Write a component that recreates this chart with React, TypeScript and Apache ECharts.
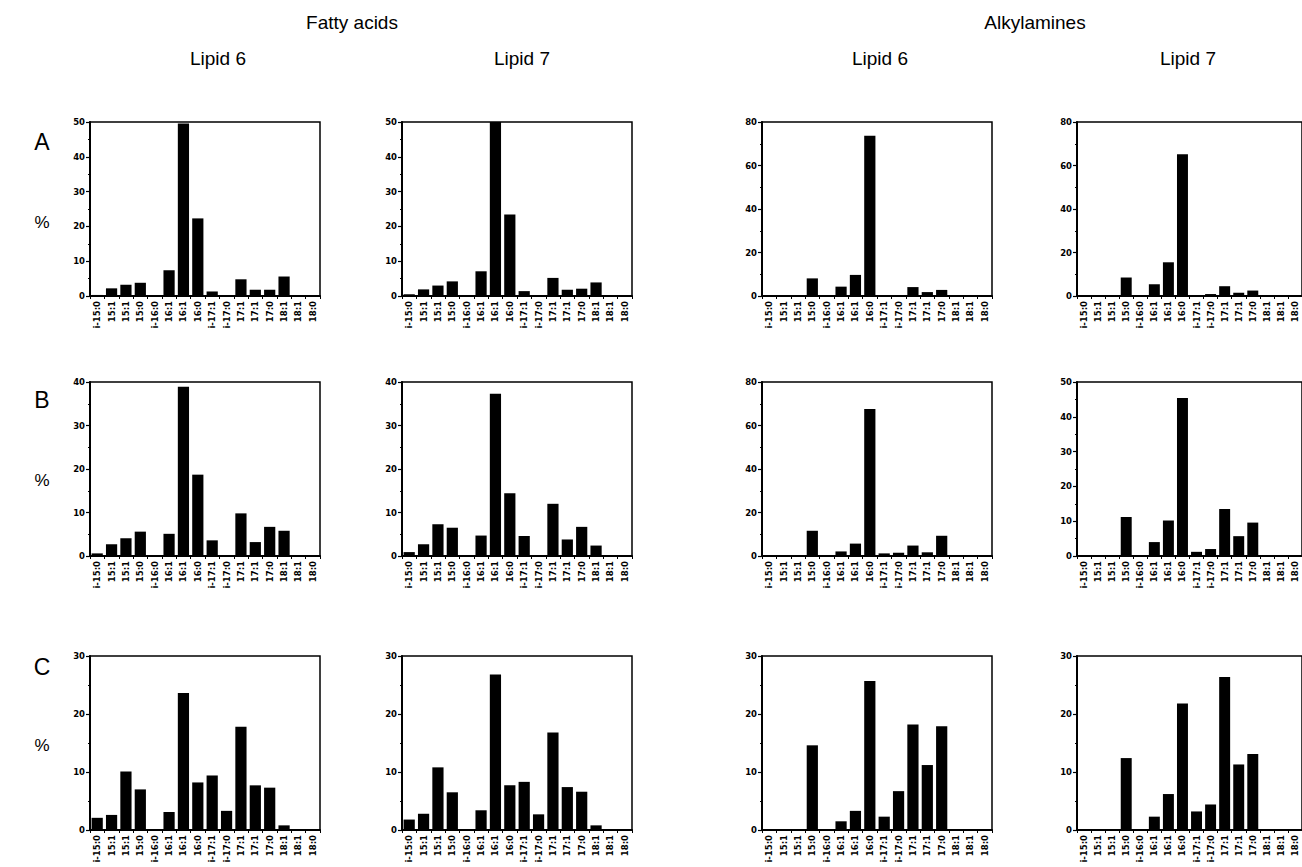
import React, { useEffect, useRef } from "react";
import * as echarts from "echarts";

// ---- categories (x axis tick labels) ----
const categories = [
  "i-15:0", "15:1", "15:1", "15:0", "i-16:0", "16:1", "16:1", "16:0",
  "i-17:1", "i-17:0", "17:1", "17:1", "17:0", "18:1", "18:1", "18:0",
];

// ---- series values (%) ----
// Row A
const faLipid6A = [0.3, 2.2, 3.2, 3.8, 0, 7.4, 49.6, 22.3, 1.3, 0.2, 4.8, 1.8, 1.8, 5.6, 0, 0];
const faLipid7A = [0.5, 1.9, 3.0, 4.2, 0, 7.1, 51, 23.4, 1.4, 0, 5.2, 1.8, 2.1, 3.9, 0, 0];
const amLipid6A = [0, 0, 0, 8.1, 0.2, 4.3, 9.7, 73.7, 0.3, 0.3, 4.1, 1.8, 2.8, 0.2, 0.2, 0.2];
const amLipid7A = [0, 0, 0, 8.5, 0.3, 5.4, 15.5, 65.2, 0.2, 0.9, 4.5, 1.5, 2.5, 0.2, 0.2, 0.2];
// Row B
const faLipid6B = [0.6, 2.7, 4.1, 5.6, 0.1, 5.1, 38.9, 18.7, 3.6, 0.1, 9.8, 3.2, 6.7, 5.8, 0, 0];
const faLipid7B = [0.9, 2.7, 7.3, 6.5, 0, 4.7, 37.3, 14.4, 4.6, 0, 12.0, 3.8, 6.7, 2.4, 0, 0];
const amLipid6B = [0, 0, 0, 11.6, 0.2, 2.1, 5.7, 67.6, 1.2, 1.5, 4.8, 1.7, 9.3, 0.2, 0.2, 0.2];
const amLipid7B = [0, 0, 0, 11.2, 0.2, 4.0, 10.2, 45.4, 1.2, 2.0, 13.5, 5.7, 9.6, 0.2, 0.2, 0.2];
// Row C
const faLipid6C = [2.1, 2.6, 10.1, 7.0, 0.1, 3.1, 23.6, 8.2, 9.4, 3.3, 17.8, 7.7, 7.3, 0.8, 0.1, 0.1];
const faLipid7C = [1.8, 2.8, 10.8, 6.5, 0.1, 3.4, 26.8, 7.7, 8.3, 2.7, 16.8, 7.4, 6.6, 0.8, 0, 0];
const amLipid6C = [0, 0, 0, 14.6, 0.1, 1.5, 3.3, 25.7, 2.3, 6.7, 18.2, 11.2, 17.9, 0.1, 0.1, 0.1];
const amLipid7C = [0, 0, 0, 12.4, 0.1, 2.3, 6.2, 21.8, 3.2, 4.4, 26.4, 11.3, 13.1, 0.1, 0.1, 0.1];

// ---- y axis scales per panel ----
const yMaxA = [50, 50, 80, 80];
const yStepA = [10, 10, 20, 20];
const yMaxB = [40, 40, 80, 50];
const yStepB = [10, 10, 20, 10];
const yMaxC = [30, 30, 30, 30];
const yStepC = [10, 10, 10, 10];

// ---- texts ----
const groupTitles = ["Fatty acids", "Alkylamines"];
const columnTitles = ["Lipid 6", "Lipid 7", "Lipid 6", "Lipid 7"];
const rowLetters = ["A", "B", "C"];
const yUnit = "%";

export default function App() {
  const ref = useRef<HTMLDivElement>(null);

  useEffect(() => {
    if (!ref.current) return;
    const chart = echarts.init(ref.current, undefined, { renderer: "svg" });

    const rows = [
      { data: [faLipid6A, faLipid7A, amLipid6A, amLipid7A], max: yMaxA, step: yStepA },
      { data: [faLipid6B, faLipid7B, amLipid6B, amLipid7B], max: yMaxB, step: yStepB },
      { data: [faLipid6C, faLipid7C, amLipid6C, amLipid7C], max: yMaxC, step: yStepC },
    ];

    const colLefts = [90, 402, 762, 1077];
    const colWidth = 230;
    const rowTops = [122, 382, 656];
    const rowHeight = 174;
    const font = "'Liberation Sans', Arial, Helvetica, sans-serif";
    const tickFont = "'DejaVu Sans', 'Liberation Sans', sans-serif";

    const grid: any[] = [];
    const xAxis: any[] = [];
    const yAxis: any[] = [];
    const series: any[] = [];

    rows.forEach((row, r) => {
      row.data.forEach((vals, c) => {
        const idx = grid.length;
        grid.push({
          left: colLefts[c],
          top: rowTops[r],
          width: colWidth,
          height: rowHeight,
          show: true,
          borderColor: "#000",
          borderWidth: 1.5,
          containLabel: false,
        });
        xAxis.push({
          type: "category",
          gridIndex: idx,
          data: categories,
          boundaryGap: true,
          axisLine: { show: true, lineStyle: { color: "#000", width: 2 } },
          axisTick: { show: true, length: 3, lineStyle: { color: "#000", width: 1 } },
          axisLabel: {
            interval: 0,
            rotate: 90,
            fontSize: 8.5,
            fontWeight: "bold",
            color: "#000",
            fontFamily: tickFont,
            margin: 5,
            formatter: (_v: string, i: number) => categories[i],
          },
          splitLine: { show: false },
        });
        yAxis.push({
          type: "value",
          gridIndex: idx,
          min: 0,
          max: row.max[c],
          interval: row.step[c],
          axisLine: { show: true, lineStyle: { color: "#000", width: 2 } },
          axisTick: { show: true, length: 4, lineStyle: { color: "#000", width: 1.2 } },
          minorTick: { show: true, splitNumber: 2, length: 2, lineStyle: { color: "#000", width: 1 } },
          axisLabel: {
            fontSize: 8.5,
            fontWeight: "bold",
            color: "#000",
            fontFamily: tickFont,
            margin: 5,
          },
          splitLine: { show: false },
        });
        series.push({
          type: "bar",
          xAxisIndex: idx,
          yAxisIndex: idx,
          data: vals,
          barCategoryGap: "22%",
          clip: true,
          itemStyle: { color: "#000" },
        });
      });
    });

    const titleStyle = (text: string, x: number, y: number, size: number) => ({
      type: "text",
      x,
      y,
      style: {
        text,
        fill: "#000",
        font: `${size}px ${font}`,
        textAlign: "center",
        textVerticalAlign: "middle",
      },
    });

    const graphic: any[] = [
      titleStyle(groupTitles[0], 352, 22, 19),
      titleStyle(groupTitles[1], 1035, 22, 19),
      titleStyle(columnTitles[0], 218, 58, 19),
      titleStyle(columnTitles[1], 522, 58, 19),
      titleStyle(columnTitles[2], 880, 58, 19),
      titleStyle(columnTitles[3], 1188, 58, 19),
    ];
    const letterY = [142, 400, 667];
    const pctY = [222, 480, 745];
    rowLetters.forEach((l, i) => {
      graphic.push(titleStyle(l, 42, letterY[i], 23));
      graphic.push(titleStyle(yUnit, 42, pctY[i], 17));
    });

    chart.setOption({
      animation: false,
      backgroundColor: "#fff",
      grid,
      xAxis,
      yAxis,
      series,
      graphic,
    });

    return () => chart.dispose();
  }, []);

  return (
    <div
      ref={ref}
      style={{ position: "absolute", left: 0, top: 0, width: 1302, height: 867 }}
    />
  );
}
